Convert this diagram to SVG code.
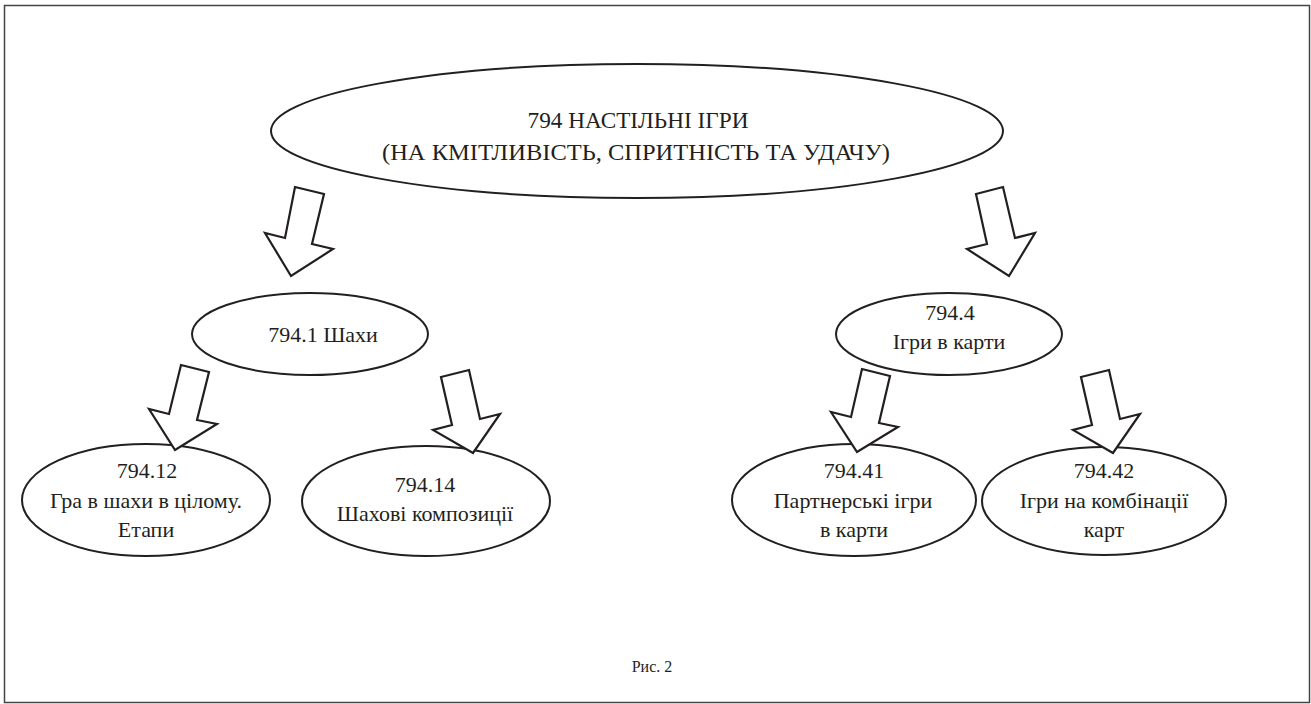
<svg xmlns="http://www.w3.org/2000/svg" width="1311" height="704" viewBox="0 0 1311 704">
<style>
.frame{fill:none;stroke:#444;stroke-width:1.5}
.node{fill:#fff;stroke:#231f20;stroke-width:2}
.arrow{fill:#fff;stroke:#231f20;stroke-width:2.2;stroke-linejoin:miter}
.t{font-family:'Liberation Serif','Times New Roman',serif;font-size:22px;fill:#231f20;text-anchor:middle}
.cap{font-size:16px}
</style>
<rect class="frame" x="4.5" y="5.5" width="1305" height="697"/>
<g id="n794">
<ellipse class="node" cx="637" cy="131" rx="366" ry="67"/>
<text class="t" x="638" y="128" style="font-size:23px" textLength="221" lengthAdjust="spacingAndGlyphs">794 НАСТІЛЬНІ ІГРИ</text>
<text class="t" x="636" y="160" style="font-size:23px" textLength="508" lengthAdjust="spacingAndGlyphs">(НА КМІТЛИВІСТЬ, СПРИТНІСТЬ ТА УДАЧУ)</text>
</g>
<g id="n794_1">
<ellipse class="node" cx="310" cy="334" rx="118" ry="41"/>
<text class="t" x="323" y="342">794.1 Шахи</text>
</g>
<g id="n794_4">
<ellipse class="node" cx="949" cy="334" rx="113" ry="41"/>
<text class="t" x="950" y="320">794.4</text>
<text class="t" x="949" y="349">Ігри в карти</text>
</g>
<g id="n794_12">
<ellipse class="node" cx="146" cy="500" rx="124" ry="56"/>
<text class="t" x="147" y="478">794.12</text>
<text class="t" x="146" y="508">Гра в шахи в цілому.</text>
<text class="t" x="146" y="537">Етапи</text>
</g>
<g id="n794_14">
<ellipse class="node" cx="426" cy="501" rx="124" ry="55"/>
<text class="t" x="425" y="492">794.14</text>
<text class="t" x="425" y="521">Шахові композиції</text>
</g>
<g id="n794_41">
<ellipse class="node" cx="854" cy="500" rx="122" ry="56"/>
<text class="t" x="854" y="478">794.41</text>
<text class="t" x="853" y="508">Партнерські ігри</text>
<text class="t" x="854" y="537">в карти</text>
</g>
<g id="n794_42">
<ellipse class="node" cx="1104" cy="501" rx="122" ry="54"/>
<text class="t" x="1104" y="478">794.42</text>
<text class="t" x="1104" y="508">Ігри на комбінації</text>
<text class="t" x="1104" y="537">карт</text>
</g>
<g id="connectors">
<polygon class="arrow" points="295,187 324,194 312,244 333,249 291,276 265,233 285,238"/>
<polygon class="arrow" points="976,194 1003,187 1015,238 1035,233 1009,276 967,249 987,244"/>
<polygon class="arrow" points="181,365 209,372 197,420 217,424 175,450 149,409 169,414"/>
<polygon class="arrow" points="441,377 469,370 480,419 500,414 473,453 433,430 452,425"/>
<polygon class="arrow" points="862,369 890,376 879,423 898,427 857,452 831,412 851,417"/>
<polygon class="arrow" points="1081,377 1109,370 1120,419 1140,414 1113,453 1073,430 1092,425"/>
</g>
<text class="t cap" x="652" y="672">Рис. 2</text>
</svg>
